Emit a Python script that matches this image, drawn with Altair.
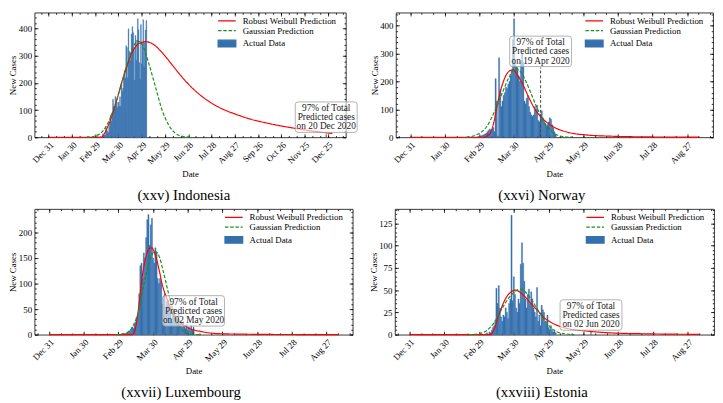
import altair as alt
import pandas as pd

FONT = "Liberation Serif"
BASE = pd.Timestamp("2019-12-31")
LINE_SERIES = ["Robust Weibull Prediction", "Gaussian Prediction"]
LINE_COLORS = ["#ff0000", "#1a8f1a"]
BAR_SERIES = ["Actual Data"]
BAR_COLORS = ["#3570ae"]

# ---------------- Indonesia ----------------
IDN_FIRST_DAY = 63  # days after 2019-12-31
IDN_CASES = [2, 0, 0, 0, 2, 0, 2, 13, 0, 8, 7, 35, 27, 21, 17, 38, 55, 82, 60, 81,
             140, 115, 107, 150, 120, 130, 110, 129, 114, 149, 113, 200, 170, 181, 218,
             247, 218, 337, 330, 219, 399, 316, 282, 297, 380, 407, 385, 327, 210, 375,
             283, 357, 436, 396, 275, 214, 415, 270, 347, 433, 260, 349, 395, 430]
IDN_WB_DAY = [0, 60, 68, 70, 74, 78.5, 84, 89, 94, 99.7, 105, 110.3, 115, 121, 125, 135,
              145, 155, 165, 175, 185, 197, 210, 225, 240, 260, 282, 303, 324, 345, 366]
IDN_WB_VAL = [0, 0, 0, 5, 25, 55, 100, 148, 200, 249, 295, 326, 343, 350, 352, 342, 316,
              282, 246, 212, 182, 152, 126, 103, 86, 67, 52, 40, 30, 21, 14]
IDN_GA_DAY = [48.8, 57.3, 65.7, 74.2, 82.7, 91.2, 99.7, 108.1, 114.5, 120.9, 129.3,
              137.8, 146.3, 154.8, 163.3, 173.9, 185]
IDN_GA_VAL = [0, 3, 12, 40, 95, 170, 255, 325, 355, 340, 270, 185, 100, 45, 15, 3, 0]
IDN_NOTE = "97% of Total\nPredicted cases\non 20 Dec 2020"
IDN_NOTE_DAY, IDN_NOTE_Y, IDN_NOTE_TOP = 358, 74, 19

# ---------------- Norway ----------------
NOR_FIRST_DAY = 58
NOR_CASES = [1, 2, 3, 5, 6, 8, 10, 12, 15, 20, 25, 30, 25, 30, 35, 20, 210, 130, 5, 285,
             170, 110, 130, 150, 160, 180, 175, 190, 200, 220, 240, 350, 425, 260, 255,
             250, 220, 200, 275, 300, 270, 130, 120, 140, 150, 110, 90, 80, 75, 80, 110,
             100, 115, 60, 55, 80, 95, 70, 60, 50, 40, 45, 55, 70, 65, 45, 35, 20, 10]
NOR_WB_DAY = [0, 55, 63, 68.6, 72.8, 75.6, 78.5, 82.7, 87, 89, 92.6, 96.9, 102.5, 108.2,
              113.9, 119.5, 125.2, 136.5, 153.5, 173, 201.7, 230, 250]
NOR_WB_VAL = [0, 0, 0, 10, 60, 120, 170, 220, 240, 242, 225, 195, 145, 100, 70, 50, 35,
              18, 8, 4, 1.5, 0.7, 0.4]
NOR_GA_DAY = [48.7, 57, 65.7, 72.8, 79.9, 85.6, 91.2, 95.5, 99.7, 105.4, 111, 116.7,
              122.4, 128, 133.7, 140]
NOR_GA_VAL = [0, 8, 35, 90, 160, 215, 245, 235, 205, 150, 95, 50, 22, 7, 2, 0]
NOR_NOTE = "97% of Total\nPredicted cases\non 19 Apr 2020"
NOR_NOTE_DAY, NOR_NOTE_Y, NOR_NOTE_TOP = 113, 308, 250

# ---------------- Luxembourg ----------------
LUX_FIRST_DAY = 60
LUX_CASES = [1, 0, 1, 0, 2, 1, 2, 3, 5, 7, 8, 10, 15, 12, 20, 25, 35, 40, 80, 135, 140,
             110, 160, 150, 190, 225, 235, 175, 215, 228, 150, 140, 170, 160, 110, 100,
             110, 105, 60, 75, 80, 50, 65, 67, 45, 55, 30, 40, 50, 35, 30, 25, 45, 20,
             28, 15, 25, 18, 12, 20, 10, 15, 8, 18, 10, 12]
LUX_WB_DAY = [0, 65, 72, 75, 77.9, 80.7, 83.6, 86.4, 88.7, 92, 94.9, 97.7, 102, 106.2,
              111.9, 120.4, 131.7, 146, 165, 200, 250]
LUX_WB_VAL = [0, 0, 0, 15, 60, 115, 150, 168, 170, 155, 130, 100, 70, 45, 27, 13, 6, 2,
              1, 0.3, 0.1]
LUX_GA_DAY = [58, 66.6, 72.2, 77.9, 83.6, 87.8, 91.5, 94.9, 99.2, 103.4, 107.6, 111.9,
              117.6, 123, 130]
LUX_GA_VAL = [0, 3, 15, 50, 115, 150, 163, 155, 120, 80, 45, 20, 5, 1, 0]
LUX_NOTE = "97% of Total\nPredicted cases\non 02 May 2020"
LUX_NOTE_DAY, LUX_NOTE_Y, LUX_NOTE_TOP = 125, 46.5, 17

# ---------------- Estonia ----------------
EST_FIRST_DAY = 66
EST_CASES = [1, 2, 0, 3, 2, 5, 8, 10, 15, 52, 35, 55, 30, 20, 15, 22, 20, 30, 25, 18,
             35, 40, 134, 38, 65, 45, 30, 25, 40, 35, 79, 103, 80, 60, 40, 30, 45, 51,
             35, 48, 40, 30, 25, 20, 53, 15, 22, 10, 33, 28, 25, 15, 12, 22, 8, 6, 10,
             5, 3, 4, 2]
EST_WB_DAY = [0, 62, 69.4, 73.7, 76.5, 79.3, 83.6, 87.8, 91.2, 94.9, 99.2, 104.8, 110.5,
              116.1, 124.6, 136, 153, 172.8, 201, 230, 250]
EST_WB_VAL = [0, 0, 0, 8, 20, 30, 42, 48, 50, 48, 43, 35, 27, 19, 12, 7, 4, 2, 1, 0.5,
              0.3]
EST_GA_DAY = [51, 59.5, 68, 73.7, 79.3, 85, 90.7, 95.8, 100.6, 104.8, 110.5, 116.1,
              121.8, 127.5, 134, 142]
EST_GA_VAL = [0, 1, 6, 15, 28, 40, 48, 51, 47, 40, 28, 17, 8, 3, 1, 0]
EST_NOTE = "97% of Total\nPredicted cases\non 02 Jun 2020"
EST_NOTE_DAY, EST_NOTE_Y, EST_NOTE_TOP = 156.5, 22, 4


def ts(days):
    return [(BASE + pd.Timedelta(days=float(d))).round("min") for d in days]


def dt(days):
    t = (BASE + pd.Timedelta(days=float(days))).round("min")
    return alt.DateTime(year=t.year, month=t.month, date=t.day, hours=t.hour, minutes=t.minute)


BOX_PATH = ("M-0.91,-0.492 L0.91,-0.492 Q1,-0.492 1,-0.402 L1,0.402 Q1,0.492 0.91,0.492 "
            "L-0.91,0.492 Q-1,0.492 -1,0.402 L-1,-0.402 Q-1,-0.492 -0.91,-0.492 Z")
LINE_SYMBOL = "M-2.57,0H2.57"
BAR_SYMBOL = "M-2.57,-0.95H2.57V0.95H-2.57Z"


def tick_axis(orient, values, size, offset):
    return alt.Axis(orient=orient, values=values, labels=False, title=None, domain=False,
                    grid=False, ticks=True, tickSize=size, tickColor="black", tickWidth=0.8,
                    offset=offset, minExtent=0)


def panel(caption, first_day, cases, wb_d, wb_v, ga_d, ga_v, note, note_day, note_y,
          note_top, x_lo, x_hi, n_ticks, y_hi, y_step, width, height):
    days = list(range(first_day, first_day + len(cases)))
    bars = pd.DataFrame({"start": ts([d - 0.5 for d in days]),
                         "end": ts([d + 0.5 for d in days]),
                         "cases": cases, "zero": 0, "series": BAR_SERIES[0]})
    wb = pd.DataFrame({"date": ts(wb_d), "value": wb_v, "series": LINE_SERIES[0]})
    ga = pd.DataFrame({"date": ts(ga_d), "value": ga_v, "series": LINE_SERIES[1]})
    nt = pd.DataFrame({"date": ts([note_day]), "y": [note_y], "y0": [0],
                       "y1": [note_top], "text": [note]})

    x_major = [dt(30 * i) for i in range(n_ticks)]
    x_minor = [dt(10 * i) for i in range(-1, 3 * n_ticks + 1) if x_lo < 10 * i < x_hi]
    n_y = int(y_hi // y_step) + 1
    y_major = [y_step * i for i in range(n_y)]
    y_minor = [y_step / 5 * i for i in range(int(y_hi // (y_step / 5)) + 1)]

    xs = alt.Scale(domain=[dt(x_lo), dt(x_hi)], nice=False)
    ys = alt.Scale(domain=[0, y_hi], nice=False)
    line_color = alt.Scale(domain=LINE_SERIES, range=LINE_COLORS)
    line_dash = alt.Scale(domain=LINE_SERIES, range=[[1, 0], [3.5, 1.8]])
    bar_fill = alt.Scale(domain=BAR_SERIES, range=BAR_COLORS)

    legend_common = dict(title=None, orient="none", legendX=width - 125.5, padding=0,
                         symbolSize=49, symbolStrokeWidth=1.3, labelFont=FONT,
                         labelFontSize=9, labelColor="black", labelOffset=11.5, rowPadding=0)
    line_legend = alt.Legend(legendY=4, symbolType=LINE_SYMBOL, **legend_common)
    bar_legend = alt.Legend(legendY=27, symbolType=BAR_SYMBOL, **legend_common)

    x_bottom = alt.Axis(orient="bottom", values=x_major, format="%b %d", labelAngle=-45,
                        labelFont=FONT, labelFontSize=9, labelColor="black", labelPadding=3,
                        title="Date", titleFont=FONT, titleFontSize=9, titleFontWeight="normal",
                        titleColor="black", titlePadding=4, ticks=False, domain=False,
                        grid=False, labelOverlap=False, labelFlush=False, labelBound=False)
    y_left = alt.Axis(orient="left", values=y_major, labelFont=FONT, labelFontSize=9,
                      labelColor="black", labelPadding=3, title="New Cases", titleFont=FONT,
                      titleFontSize=9, titleFontWeight="normal", titleColor="black",
                      titleX=-17, minExtent=0, ticks=False, domain=False, grid=False,
                      labelOverlap=False, labelFlush=False, labelBound=False)

    bar_layer = alt.Chart(bars).mark_rect(stroke=BAR_COLORS[0], strokeWidth=0.35).encode(
        x=alt.X("start:T", scale=xs, axis=x_bottom),
        x2="end:T",
        y=alt.Y("cases:Q", scale=ys, axis=y_left),
        y2="zero:Q",
        fill=alt.Fill("series:N", scale=bar_fill, legend=bar_legend),
    )
    wb_layer = alt.Chart(wb).mark_line(strokeWidth=1.2, interpolate="monotone").encode(
        x=alt.X("date:T", scale=xs, axis=tick_axis("top", x_major, 3.5, -height)),
        y=alt.Y("value:Q", scale=ys, axis=tick_axis("right", y_major, 3.5, -width)),
        color=alt.Color("series:N", scale=line_color, legend=line_legend),
        strokeDash=alt.StrokeDash("series:N", scale=line_dash, legend=line_legend),
    )
    ga_layer = alt.Chart(ga).mark_line(strokeWidth=1.2, interpolate="monotone").encode(
        x=alt.X("date:T", scale=xs, axis=tick_axis("bottom", x_major, 3.5, -height)),
        y=alt.Y("value:Q", scale=ys, axis=tick_axis("left", y_major, 3.5, -width)),
        color=alt.Color("series:N", scale=line_color, legend=line_legend),
        strokeDash=alt.StrokeDash("series:N", scale=line_dash, legend=line_legend),
    )
    rule_layer = alt.Chart(nt).mark_rule(color="#444", strokeDash=[3, 2], strokeWidth=1).encode(
        x=alt.X("date:T", scale=xs, axis=tick_axis("top", x_minor, 1.8, -height)),
        y=alt.Y("y0:Q", scale=ys, axis=tick_axis("right", y_minor, 1.8, -width)),
        y2="y1:Q",
    )
    box_layer = alt.Chart(nt).mark_point(shape=BOX_PATH, size=3969, filled=True, fill="white",
                                         fillOpacity=0.6, stroke="#a0a0a0", strokeWidth=0.8,
                                         opacity=1).encode(
        x=alt.X("date:T", scale=xs, axis=tick_axis("bottom", x_minor, 1.8, -height)),
        y=alt.Y("y:Q", scale=ys, axis=tick_axis("left", y_minor, 1.8, -width)),
    )
    text_layer = alt.Chart(nt).mark_text(font=FONT, fontSize=9.5, lineHeight=9.5,
                                         lineBreak="\n", color="#222", align="center",
                                         baseline="middle", dy=-9.5).encode(
        x=alt.X("date:T", scale=xs, axis=None),
        y=alt.Y("y:Q", scale=ys, axis=None),
        text="text:N",
    )
    return alt.layer(bar_layer, wb_layer, ga_layer, rule_layer, box_layer, text_layer).properties(
        width=width, height=height,
        title=alt.TitleParams(caption, orient="bottom", anchor="middle", frame="bounds",
                              font=FONT, fontSize=15, fontWeight="normal", color="black",
                              offset=10),
    )


p1 = panel("(xxv) Indonesia", IDN_FIRST_DAY, IDN_CASES, IDN_WB_DAY, IDN_WB_VAL, IDN_GA_DAY,
           IDN_GA_VAL, IDN_NOTE, IDN_NOTE_DAY, IDN_NOTE_Y, IDN_NOTE_TOP,
           -18.25, 383.25, 13, 459, 100, 317, 127)
p2 = panel("(xxvi) Norway", NOR_FIRST_DAY, NOR_CASES, NOR_WB_DAY, NOR_WB_VAL, NOR_GA_DAY,
           NOR_GA_VAL, NOR_NOTE, NOR_NOTE_DAY, NOR_NOTE_Y, NOR_NOTE_TOP,
           -12.5, 262.5, 9, 447, 100, 323, 127)
p3 = panel("(xxvii) Luxembourg", LUX_FIRST_DAY, LUX_CASES, LUX_WB_DAY, LUX_WB_VAL, LUX_GA_DAY,
           LUX_GA_VAL, LUX_NOTE, LUX_NOTE_DAY, LUX_NOTE_Y, LUX_NOTE_TOP,
           -12.5, 262.5, 9, 246, 50, 324, 128)
p4 = panel("(xxviii) Estonia", EST_FIRST_DAY, EST_CASES, EST_WB_DAY, EST_WB_VAL, EST_GA_DAY,
           EST_GA_VAL, EST_NOTE, EST_NOTE_DAY, EST_NOTE_Y, EST_NOTE_TOP,
           -12.5, 262.5, 9, 141, 25, 325, 128)

indep = dict(color="independent", fill="independent", strokeDash="independent")
row1 = alt.hconcat(p1, p2, spacing=10).resolve_scale(**indep)
row2 = alt.hconcat(p3, p4, spacing=15).resolve_scale(**indep)
chart = alt.vconcat(row1, row2, spacing=4).resolve_scale(**indep).properties(
    padding=0, background="white"
).configure_view(stroke="#222", strokeWidth=0.9)

chart.save("out.html", embed_options={"renderer": "svg", "actions": False})
